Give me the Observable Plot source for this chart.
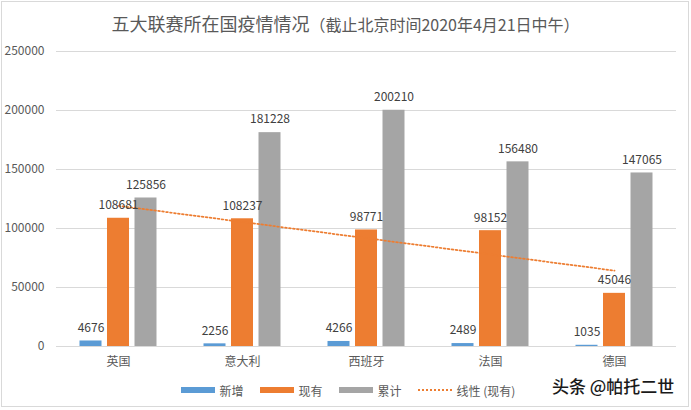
<!DOCTYPE html>
<html>
<head>
<meta charset="utf-8">
<script src="https://cdn.jsdelivr.net/npm/d3@7"></script>
<script src="https://cdn.jsdelivr.net/npm/@observablehq/plot@0.6"></script>
<style>
  html, body { margin: 0; padding: 0; background: #fff; }
  #wrap { position: relative; width: 691px; height: 410px; overflow: hidden; font-family: "Noto Sans CJK SC", "Noto Sans", sans-serif; }
  #frame { position: absolute; left: 1px; top: 1px; width: 686px; height: 404px; border: 1px solid #d9d9d9; }
  #title { position: absolute; left: 5px; width: 681px; top: 10px; text-align: center; color: #595959; font-size: 18px; line-height: 26px; white-space: nowrap; }
  #title span { font-size: 16px; }
  #chart { position: absolute; left: 0; top: 40px; }
  #legend { position: absolute; left: 5px; width: 686px; top: 380px; height: 20px; display: flex; justify-content: center; align-items: center; color: #595959; font-size: 12px; }
  .item { display: flex; align-items: center; margin: 0 8px; }
  .sw { width: 34px; height: 6px; margin-right: 5px; }
  .dot { width: 34px; height: 0; border-top: 2px dotted #ed7d31; margin-right: 5px; }
  #mark { position: absolute; left: 552px; top: 373px; font-size: 17px; font-weight: 500; color: #1a1a1a; white-space: nowrap; }
</style>
</head>
<body>
<div id="wrap">
  <div id="frame"></div>
  <div id="title">五大联赛所在国疫情情况<span>（截止北京时间2020年4月21日中午）</span></div>
  <div id="chart"></div>
  <div id="legend"></div>
  <div id="mark">头条 @帕托二世</div>
</div>
<script>
const countries = ["英国", "意大利", "西班牙", "法国", "德国"];
const seriesNames = ["新增", "现有", "累计"];
const xinzeng = [4676, 2256, 4266, 2489, 1035];
const xianyou = [108681, 108237, 98771, 98152, 45046];
const leiji = [125856, 181228, 200210, 156480, 147065];
const yTicks = [0, 50000, 100000, 150000, 200000, 250000];
const trendName = "线性 (现有)";

const colors = ["#5b9bd5", "#ed7d31", "#a5a5a5"];
const offsets = [-27.5, 0, 27.5];
const seriesValues = [xinzeng, xianyou, leiji];

const rows = [];
seriesNames.forEach((s, si) => {
  countries.forEach((c, ci) => rows.push({country: c, series: s, value: seriesValues[si][ci]}));
});

// linear trend of 现有 over category index
const n = xianyou.length;
const mx = d3.mean(d3.range(n).map(i => i + 1));
const my = d3.mean(xianyou);
const slope = d3.sum(xianyou.map((v, i) => (i + 1 - mx) * (v - my))) / d3.sum(d3.range(n).map(i => (i + 1 - mx) ** 2));
const trend = countries.map((c, i) => ({country: c, value: my + slope * (i + 1 - mx)}));

const marks = [
  Plot.gridY(yTicks, {stroke: "#d9d9d9", strokeOpacity: 1}),
  Plot.axisY(yTicks, {tickSize: 0, tickPadding: 12, tickFormat: d => String(d), fill: "#595959", fontSize: 12}),
  Plot.axisX({tickSize: 0, tickPadding: 11, fill: "#595959", fontSize: 12, label: null})
];
seriesNames.forEach((s, si) => {
  const d = rows.filter(r => r.series === s);
  marks.push(Plot.barY(d, {x: "country", y: "value", fill: colors[si], dx: offsets[si]}));
});
marks.push(Plot.line(trend, {x: "country", y: "value", stroke: "#ed7d31", strokeWidth: 1.75, strokeDasharray: "1.75 2.25"}));
seriesNames.forEach((s, si) => {
  const d = rows.filter(r => r.series === s);
  marks.push(Plot.text(d, {x: "country", y: "value", text: d => String(d.value), dx: offsets[si], dy: -13, fill: "#404040", fontSize: 12}));
});

const chart = Plot.plot({
  width: 691,
  height: 330,
  marginLeft: 56,
  marginRight: 15,
  marginTop: 11,
  marginBottom: 24,
  style: {fontFamily: "'Noto Sans CJK SC', 'Noto Sans', sans-serif", background: "transparent"},
  x: {domain: countries, paddingInner: 0.8226, paddingOuter: 0.4113, label: null},
  y: {domain: [0, 250000], label: null},
  marks
});
document.getElementById("chart").appendChild(chart);

const legend = document.getElementById("legend");
seriesNames.forEach((s, si) => {
  const it = document.createElement("div");
  it.className = "item";
  it.innerHTML = `<div class="sw" style="background:${colors[si]}"></div><span>${s}</span>`;
  legend.appendChild(it);
});
const tr = document.createElement("div");
tr.className = "item";
tr.innerHTML = `<div class="dot"></div><span>${trendName}</span>`;
legend.appendChild(tr);
</script>
</body>
</html>
